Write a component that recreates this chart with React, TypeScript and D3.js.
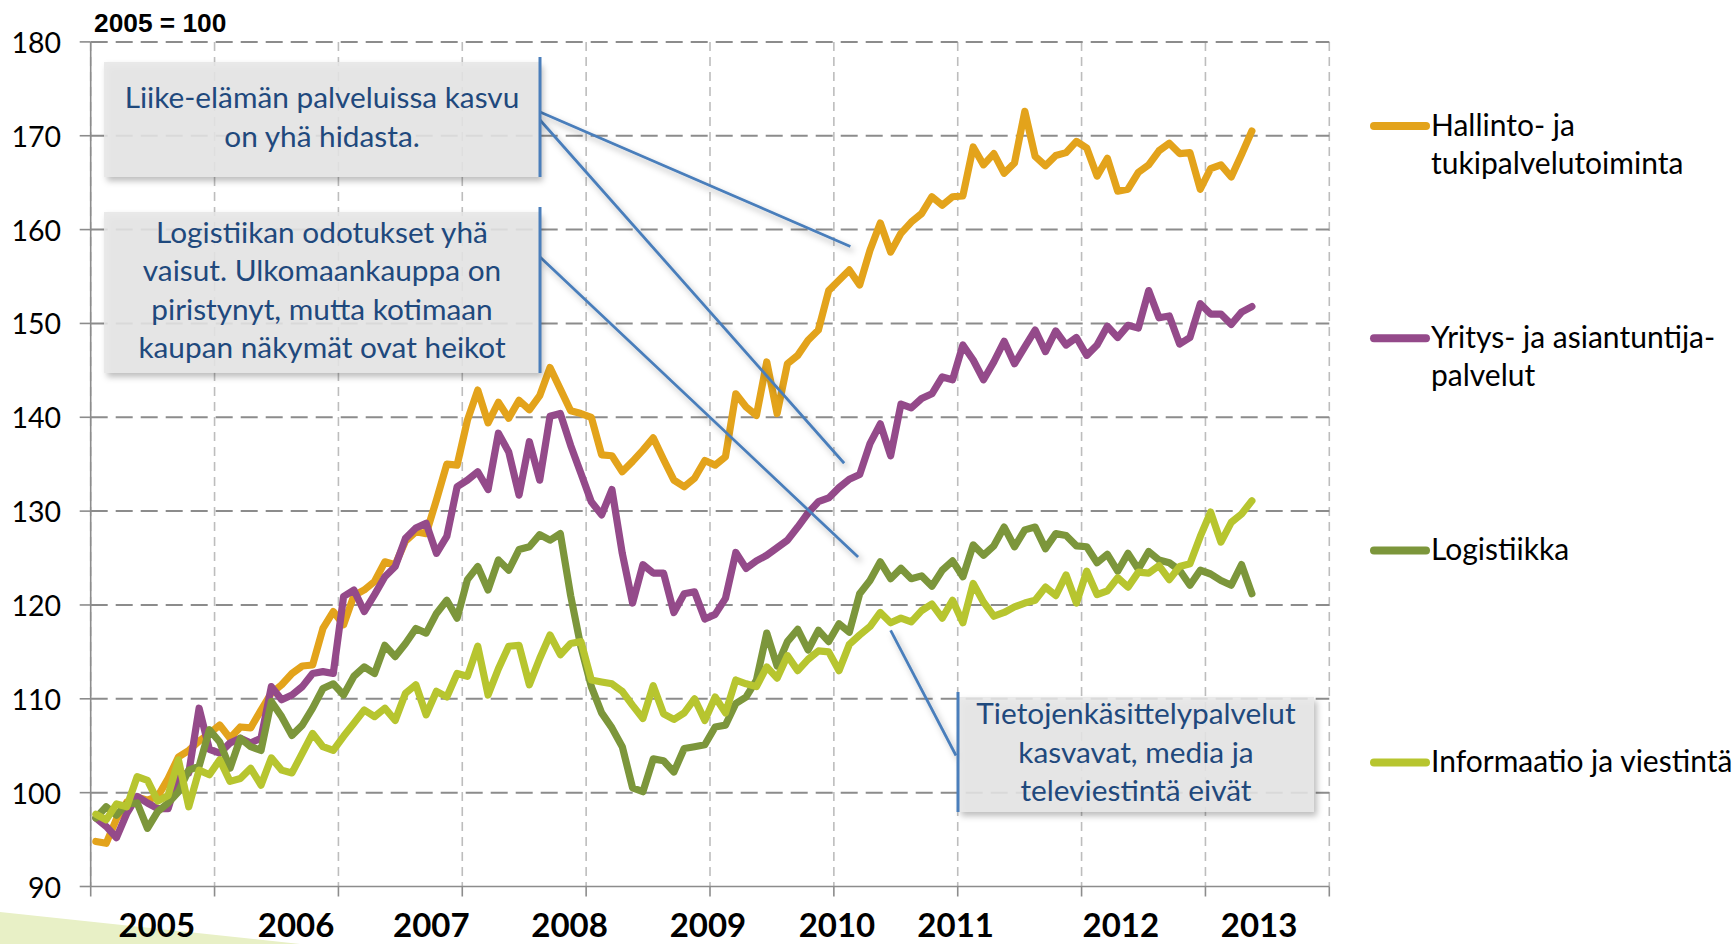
import React from 'react';
import * as d3 from 'd3';

// monthly index values, 2005 = 100
const hallinto = [
  94.8, 94.6, 97.2, 99.0, 99.5, 99.2, 99.6, 101.5, 103.8, 104.5, 105.5, 106.3,
  107.2, 105.8, 107.0, 106.9, 108.8, 110.6, 111.5, 112.7, 113.5, 113.6, 117.5, 119.3,
  117.9, 121.0, 121.6, 122.5, 124.6, 124.3, 126.8, 127.8, 127.6, 131.2, 135.0, 134.9,
  139.7, 142.9, 139.4, 141.6, 139.9, 141.8, 140.8, 142.3, 145.3, 143.0, 140.7, 140.4,
  140.0, 136.0, 135.9, 134.2, 135.3, 136.5, 137.8, 135.5, 133.3, 132.6, 133.5, 135.4,
  134.9, 135.8, 142.5, 141.1, 140.2, 145.9, 140.4, 145.7, 146.6, 148.2, 149.3, 153.5,
  154.6, 155.7, 154.1, 157.8, 160.7, 157.6, 159.6, 160.8, 161.7, 163.5, 162.6, 163.5,
  163.6, 168.8, 166.9, 168.1, 166.0, 167.1, 172.6, 167.8, 166.8, 167.9, 168.2, 169.4,
  168.7, 165.7, 167.6, 164.1, 164.3, 166.1, 166.9, 168.4, 169.2, 168.1, 168.2, 164.3,
  166.5, 166.9, 165.6, 168.0, 170.5
];
const yritys = [
  97.3, 96.4, 95.2, 97.8, 99.6, 98.9, 98.3, 98.3, 101.9, 102.1, 109.0, 104.6,
  104.2, 105.3, 105.8, 105.3, 105.8, 111.3, 109.9, 110.4, 111.3, 112.7, 112.9, 112.7,
  120.9, 121.6, 119.3, 121.1, 123.0, 124.1, 127.1, 128.2, 128.7, 125.5, 127.3, 132.6,
  133.3, 134.2, 132.3, 138.3, 136.3, 131.7, 137.4, 133.3, 140.1, 140.4, 137.0, 134.0,
  131.0, 129.6, 132.3, 125.5, 120.2, 124.3, 123.4, 123.4, 119.2, 121.2, 121.4, 118.5,
  119.0, 120.7, 125.6, 123.9, 124.7, 125.3, 126.1, 126.9, 128.3, 129.8, 131.0, 131.4,
  132.5, 133.4, 133.9, 137.2, 139.3, 135.9, 141.4, 141.0, 142.0, 142.5, 144.3, 144.0,
  147.7, 146.1, 144.0, 145.9, 148.1, 145.7, 147.5, 149.3, 147.0, 149.2, 147.7, 148.5,
  146.6, 147.7, 149.7, 148.5, 149.8, 149.5, 153.5, 150.6, 150.8, 147.8, 148.5, 152.1,
  151.0, 151.0, 149.9, 151.2, 151.8
];
const logistiikka = [
  97.3, 98.5, 97.6, 98.8, 98.9, 96.2, 98.0, 98.9, 100.1, 102.4, 102.8, 106.7,
  105.4, 102.6, 105.8, 104.9, 104.5, 109.7, 108.1, 106.1, 107.2, 109.0, 111.1, 111.6,
  110.4, 112.4, 113.4, 112.7, 115.7, 114.5, 115.9, 117.5, 117.0, 119.1, 120.5, 118.6,
  122.7, 124.1, 121.6, 124.8, 123.7, 125.9, 126.2, 127.5, 126.9, 127.6, 121.0, 115.5,
  111.3, 108.5, 106.9, 104.9, 100.5, 100.1, 103.6, 103.4, 102.2, 104.7, 104.9, 105.1,
  107.0, 107.2, 109.5, 110.2, 112.0, 117.0, 113.5, 116.1, 117.4, 115.2, 117.3, 116.1,
  118.0, 117.1, 121.2, 122.6, 124.6, 122.8, 123.9, 122.8, 123.1, 122.0, 123.7, 124.7,
  123.0, 126.4, 125.3, 126.3, 128.3, 126.2, 128.0, 128.3, 126.0, 127.6, 127.4, 126.3,
  126.2, 124.5, 125.4, 123.6, 125.5, 123.8, 125.7, 124.8, 124.5, 123.7, 122.1, 123.7,
  123.3, 122.6, 122.1, 124.3, 121.2
];
const informaatio = [
  97.7, 97.1, 98.8, 98.5, 101.7, 101.3, 99.1, 99.7, 103.5, 98.5, 102.4, 101.9,
  103.5, 101.2, 101.5, 102.6, 100.8, 103.7, 102.4, 102.1, 104.2, 106.3, 104.9, 104.5,
  106.0, 107.4, 108.8, 108.1, 109.0, 107.7, 110.6, 111.5, 108.3, 110.8, 110.2, 112.7,
  112.4, 115.6, 110.4, 113.2, 115.6, 115.7, 111.5, 114.3, 116.8, 114.7, 115.9, 116.1,
  112.0, 111.8, 111.6, 110.8, 109.3, 107.9, 111.4, 108.4, 107.8, 108.5, 110.0, 107.7,
  110.2, 108.5, 112.0, 111.6, 111.3, 113.4, 112.2, 114.6, 113.0, 114.2, 115.1, 115.0,
  113.0, 115.8, 116.8, 117.7, 119.2, 118.1, 118.6, 118.2, 119.4, 120.1, 118.6, 120.5,
  118.1, 122.3, 120.3, 118.8, 119.2, 119.8, 120.2, 120.5, 121.9, 121.0, 123.2, 120.2,
  123.6, 121.1, 121.5, 122.9, 121.9, 123.5, 123.4, 124.2, 122.7, 124.1, 124.4, 127.3,
  129.9, 126.7, 128.8, 129.7, 131.1
];

const seriesValues = [hallinto, yritys, logistiikka, informaatio];
const seriesLabels = [
  ['Hallinto- ja', 'tukipalvelutoiminta'],
  ['Yritys- ja asiantuntija-', 'palvelut'],
  ['Logistiikka'],
  ['Informaatio ja viestintä'],
];
const seriesColors = ['#E3A31B', '#944A8A', '#7C963B', '#B7C52F'];

const yTicks = [90, 100, 110, 120, 130, 140, 150, 160, 170, 180];
const yearLabels = ['2005', '2006', '2007', '2008', '2009', '2010', '2011', '2012', '2013'];
// where the year texts sit along the month axis
const yearLabelMonth = [6.4, 19.9, 33.0, 46.4, 59.8, 72.3, 83.8, 99.8, 113.2];
const axisMonths = 120;

const notes = [
  {
    lines: ['Liike-elämän palveluissa kasvu', 'on yhä hidasta.'],
    box: [104, 62, 540, 177], barSide: 'right',
    from: [[540, 112], [540, 120]],
    to: [[73.6, 158.2], [73.0, 135.1]],
  },
  {
    lines: ['Logistiikan odotukset yhä', 'vaisut. Ulkomaankauppa on', 'piristynyt, mutta kotimaan', 'kaupan näkymät ovat heikot'],
    box: [104, 212, 540, 373], barSide: 'right',
    from: [[540, 257]],
    to: [[74.35, 125.1]],
  },
  {
    lines: ['Tietojenkäsittelypalvelut', 'kasvavat, media ja', 'televiestintä eivät'],
    box: [958, 697, 1314, 812], barSide: 'left',
    from: [[956, 755.5]],
    to: [[77.5, 117.3]],
  },
];

const W = 1735;
const H = 944;
const font = 'Lato, "Open Sans", sans-serif';

export default function App() {
  const x = d3.scaleLinear().domain([0, axisMonths]).range([90.7, 1329.3]);
  const y = d3.scaleLinear().domain([90, 180]).range([886.5, 41.9]);

  const line = d3.line<number>()
    .x((d, i) => x(i + 0.5))
    .y(d => y(d));

  const gridMonths = d3.range(0, axisMonths + 1, 12);
  const textBlue = '#1F497D';
  const calloutBlue = '#4A7EBB';

  return (
    <div style={{ position: 'absolute', left: 0, top: 0 }}>
      <svg width={W} height={H} style={{ display: 'block', background: '#fff' }}>
        <defs>
          <filter id="shadow" x="-10%" y="-10%" width="130%" height="140%">
            <feDropShadow dx="3" dy="4" stdDeviation="3" floodColor="#000" floodOpacity="0.3" />
          </filter>
        </defs>

        {/* slide decoration bottom-left */}
        <polygon points={`0,912 300,${H} 0,${H}`} fill="#E8F0C6" />

        {/* vertical gridlines */}
        {gridMonths.map(m => (
          <line key={'vg' + m} x1={x(m)} x2={x(m)} y1={y(180)} y2={y(90)}
            stroke="#BDBDBD" strokeWidth={1.6} strokeDasharray="9 6" />
        ))}
        {/* horizontal gridlines */}
        {yTicks.filter(t => t > 90).map(t => (
          <line key={'hg' + t} x1={x(0)} x2={x(axisMonths)} y1={y(t)} y2={y(t)}
            stroke="#8C8C8C" strokeWidth={2} strokeDasharray="17 8" />
        ))}

        {/* axes */}
        <line x1={x(0)} x2={x(0)} y1={y(180)} y2={y(90)} stroke="#8C8C8C" strokeWidth={1.6} />
        <line x1={x(0)} x2={x(axisMonths)} y1={y(90)} y2={y(90)} stroke="#8C8C8C" strokeWidth={1.6} />
        {yTicks.map(t => (
          <line key={'yt' + t} x1={x(0) - 11} x2={x(0)} y1={y(t)} y2={y(t)} stroke="#8C8C8C" strokeWidth={1.6} />
        ))}
        {gridMonths.map(m => (
          <line key={'xt' + m} x1={x(m)} x2={x(m)} y1={y(90)} y2={y(90) + 10} stroke="#8C8C8C" strokeWidth={1.6} />
        ))}

        {yTicks.map(t => (
          <text key={'yl' + t} x={61} y={y(t)} textAnchor="end" dominantBaseline="central"
            fontFamily={font} fontSize={28.5} fill="#000">{t}</text>
        ))}
        {yearLabels.map((lab, i) => (
          <text key={lab} x={x(yearLabelMonth[i])} y={924} textAnchor="middle" dominantBaseline="central"
            fontFamily={font} fontWeight="bold" fontSize={33} fill="#000">{lab}</text>
        ))}
        <text x={94} y={23} dominantBaseline="central" fontFamily='"Liberation Sans", Arial, sans-serif'
          fontWeight="bold" fontSize={26.3} fill="#000">2005 = 100</text>

        {/* series */}
        {seriesValues.map((vals, s) => (
          <path key={'s' + s} d={line(vals) || ''} fill="none" stroke={seriesColors[s]}
            strokeWidth={7.2} strokeLinejoin="round" strokeLinecap="round" />
        ))}

        {/* annotations */}
        {notes.map((n, k) => {
          const [x0, y0, x1, y1] = n.box;
          const cx = (x0 + x1) / 2;
          const barX = n.barSide === 'right' ? x1 : x0;
          const lineGap = 38.3;
          const midY = (y0 + y1) / 2 - 3.5;
          const firstY = midY - ((n.lines.length - 1) * lineGap) / 2;
          return (
            <g key={'n' + k}>
              {n.from.map((f, j) => (
                <line key={j} x1={f[0]} y1={f[1]} x2={x(n.to[j][0])} y2={y(n.to[j][1])}
                  stroke={calloutBlue} strokeWidth={2.8} filter="url(#shadow)" />
              ))}
              <rect x={x0} y={y0} width={x1 - x0} height={y1 - y0} fill="#E6E6E6" fillOpacity={0.86}
                filter="url(#shadow)" />
              <line x1={barX} x2={barX} y1={y0 - 5} y2={y1} stroke={calloutBlue} strokeWidth={3} />
              {n.lines.map((t, j) => (
                <text key={j} x={cx} y={firstY + j * lineGap} textAnchor="middle" dominantBaseline="central"
                  fontFamily={font} fontSize={29.8} fill={textBlue}>{t}</text>
              ))}
            </g>
          );
        })}

        {/* legend */}
        {seriesLabels.map((lines, s) => {
          const ly = 126 + s * 212.2;
          return (
            <g key={'lg' + s}>
              <line x1={1374} x2={1426} y1={ly} y2={ly} stroke={seriesColors[s]} strokeWidth={8} strokeLinecap="round" />
              {lines.map((t, j) => (
                <text key={j} x={1431} y={ly - 2.5 + j * 38.7} dominantBaseline="central"
                  fontFamily={font} fontSize={30} fill="#000">{t}</text>
              ))}
            </g>
          );
        })}
      </svg>
    </div>
  );
}
